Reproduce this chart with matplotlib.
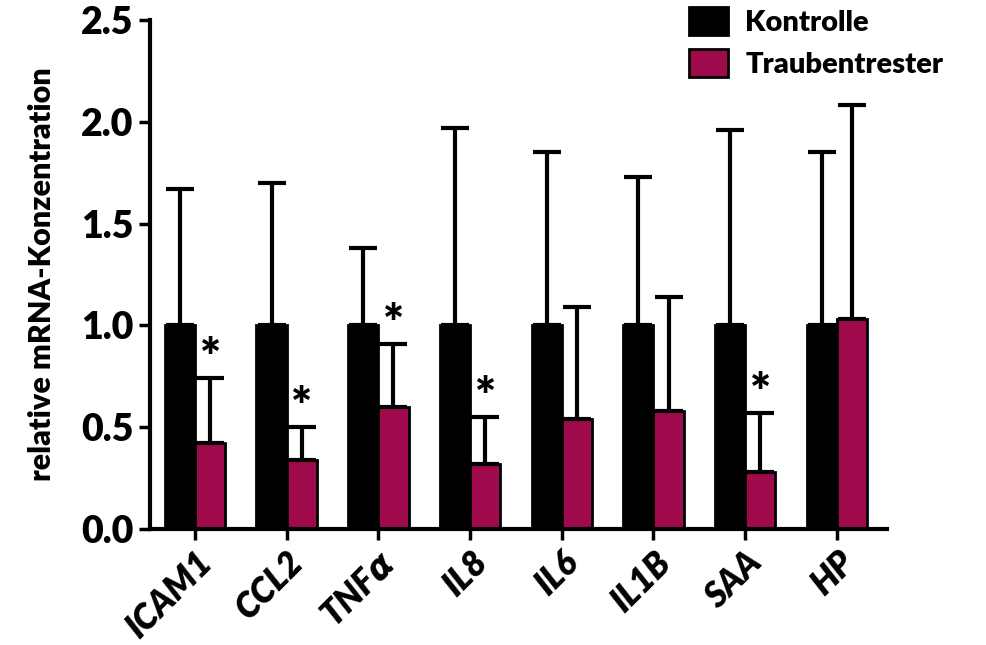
import numpy as np
import matplotlib.pyplot as plt

genes = ['ICAM1', 'CCL2', r'TNF$\alpha$', 'IL8', 'IL6', 'IL1B', 'SAA', 'HP']
kontrolle = [1.0, 1.0, 1.0, 1.0, 1.0, 1.0, 1.0, 1.0]
kontrolle_sd = [0.67, 0.70, 0.38, 0.97, 0.85, 0.73, 0.96, 0.85]
trester = [0.42, 0.34, 0.60, 0.32, 0.54, 0.58, 0.28, 1.03]
trester_sd = [0.32, 0.16, 0.31, 0.23, 0.55, 0.56, 0.29, 1.05]
signif = [True, True, True, True, False, False, True, False]

plt.rcParams['font.family'] = ['Lato', 'DejaVu Sans']
plt.rcParams['mathtext.fontset'] = 'custom'
plt.rcParams['mathtext.it'] = 'DejaVu Sans:bold:italic'

fig = plt.figure(figsize=(9.87, 6.45), dpi=100)
ax = fig.add_axes([0.152, 0.180, 0.747, 0.789])

x = np.arange(len(genes))
w = 0.33
maroon = '#9E0A4B'
err_kw = dict(elinewidth=3, capsize=10, capthick=3, ecolor='black')

ax.bar(x - w / 2, kontrolle, w, color='black', edgecolor='black', linewidth=2,
       yerr=[np.zeros(len(genes)), kontrolle_sd], error_kw=err_kw, label='Kontrolle')
ax.bar(x + w / 2, trester, w, color=maroon, edgecolor='black', linewidth=2,
       yerr=[np.zeros(len(genes)), trester_sd], error_kw=err_kw, label='Traubentrester')

# Sternchen über signifikanten Balken
for i, s in enumerate(signif):
    if s:
        top = trester[i] + trester_sd[i]
        ax.text(x[i] + w / 2, top + 0.09, '*', ha='center', va='center',
                fontsize=36, fontweight='heavy')

ax.set_xlim(-0.49, 7.55)
ax.set_ylim(0, 2.5)
ax.set_yticks([0, 0.5, 1.0, 1.5, 2.0, 2.5])
ax.set_yticklabels(['0.0', '0.5', '1.0', '1.5', '2.0', '2.5'], fontsize=27, fontweight='heavy')
ax.set_xticks(x)
ax.set_xticklabels(genes, rotation=45, ha='right', rotation_mode='anchor',
                   fontsize=25, fontweight='heavy', fontstyle='italic')
ax.set_ylabel('relative mRNA-Konzentration', fontsize=22, fontweight='heavy', labelpad=18)

for side in ['top', 'right']:
    ax.spines[side].set_visible(False)
for side in ['left', 'bottom']:
    ax.spines[side].set_linewidth(3)
ax.tick_params(width=2.5, length=8, pad=4)

ax.legend(loc='upper left', bbox_to_anchor=(0.671, 1.03), bbox_transform=fig.transFigure,
          frameon=False, prop=dict(size=21, weight='heavy'), handlelength=1.35,
          handleheight=1.1, labelspacing=0.45, handletextpad=0.6)

fig.savefig('out.png', dpi=100)
